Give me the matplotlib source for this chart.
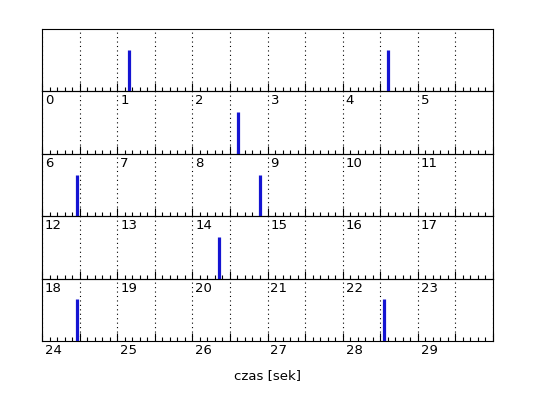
import numpy as np
import matplotlib
matplotlib.use("Agg")
import matplotlib.pyplot as plt
from matplotlib.ticker import MultipleLocator

# spike times [s] and amplitudes
spike_times = [1.16, 4.6, 8.61, 12.46, 14.9, 20.35, 24.46, 28.55]
spike_amps = [1, 1, 1, 1, 1, 1, 1, 1]
row_len = 6          # seconds per row
n_rows = 5

fig = plt.figure(figsize=(5.38, 3.98), dpi=100)
fig.patch.set_facecolor("white")
left, right = 42 / 538, 493 / 538
top, bottom = 1 - 29 / 398, 1 - 341 / 398
h = (top - bottom) / n_rows

axes = []
for r in range(n_rows):
    ax = fig.add_axes([left, top - (r + 1) * h, right - left, h])
    ax.set_facecolor("none")
    t0 = r * row_len
    for t, a in zip(spike_times, spike_amps):
        if t0 <= t < t0 + row_len:
            ax.vlines(t - t0, 0, a, color="#1414d2", linewidth=2.3, zorder=3)
    ax.set_xlim(0, row_len)
    ax.set_ylim(0, 1.5)
    ax.set_yticks([])
    ax.xaxis.set_major_locator(MultipleLocator(0.5))
    ax.xaxis.set_minor_locator(MultipleLocator(0.1))
    ax.tick_params(axis="x", which="major", direction="in", length=6, width=0.8,
                   labelbottom=False, top=False)
    ax.tick_params(axis="x", which="minor", direction="in", length=3, width=0.8, top=False)
    ax.grid(True, axis="x", which="major", linestyle=(0, (1, 3)), color="black", linewidth=0.8)
    for s in ax.spines.values():
        s.set_linewidth(0.8)
    # tick labels, left-aligned just right of each integer tick
    for k in range(row_len):
        fig.text(left + (right - left) * (k / row_len) + 3 / 538,
                 top - (r + 1) * h - 3 / 398, str(t0 + k),
                 ha="left", va="top", fontsize=9.5, zorder=5)
    axes.append(ax)

fig.text((left + right) / 2, 1 - 376 / 398, "czas [sek]", ha="center", va="center", fontsize=9.5)

fig.savefig("out.png", dpi=100)
